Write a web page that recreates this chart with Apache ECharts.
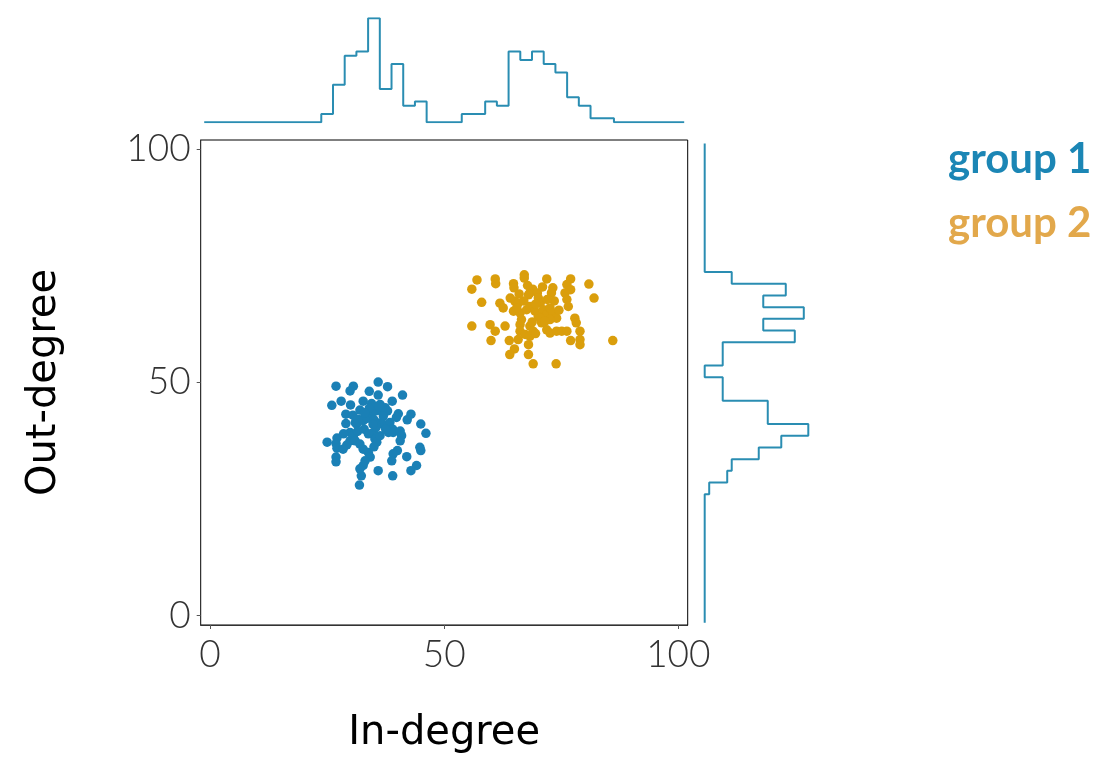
<!DOCTYPE html>
<html>
<head>
<meta charset="utf-8">
<script src="https://cdn.jsdelivr.net/npm/echarts@6/dist/echarts.min.js"></script>
<style>
  html, body { margin: 0; padding: 0; background: #fff; }
  #chart { width: 1107px; height: 759px; }
</style>
</head>
<body>
<div id="chart"></div>
<script>
// ---- data ----
const groupNames = ['group 1', 'group 2'];
const xTicks = [0, 50, 100];
const yTicks = [0, 50, 100];
const axisNames = ['In-degree', 'Out-degree'];

const group1 = [
  [26.9,49.2],[30.6,49.2],[29.9,48.2],[35.9,50.1],[37.9,49.1],[34.0,48.1],[41.1,47.3],[35.9,47.3],
  [26.0,45.1],[28.0,46.0],[30.0,45.2],[32.7,46.0],[34.5,45.5],[36.3,45.3],[37.4,44.6],[37.9,43.9],
  [38.9,46.0],[29.0,43.2],[32.0,44.1],[33.5,42.8],[34.5,43.4],[35.4,43.9],[36.7,43.9],[37.0,42.8],
  [40.2,43.3],[39.8,42.5],[42.9,43.2],[42.1,42.0],[29.0,41.2],[31.0,41.4],[31.7,42.1],[31.3,41.1],
  [32.7,41.8],[33.5,42.3],[32.9,40.0],[36.2,41.3],[36.9,41.1],[38.4,41.4],[39.0,40.0],[45.0,41.1],
  [46.1,39.1],[25.0,37.2],[27.1,38.1],[26.9,36.9],[27.1,35.9],[29.9,39.3],[30.6,38.6],[29.9,37.5],
  [29.2,36.6],[28.4,35.7],[31.0,37.5],[32.0,36.8],[32.7,35.7],[33.8,35.0],[34.2,34.0],[34.9,39.3],
  [35.2,37.9],[35.6,37.2],[36.3,38.6],[38.1,39.3],[39.1,39.3],[40.6,39.6],[40.9,38.6],[40.6,37.5],
  [40.0,35.4],[39.1,34.7],[38.8,33.2],[42.0,34.1],[44.8,36.1],[45.0,35.4],[26.9,34.0],[26.9,33.0],
  [33.1,33.2],[32.7,32.2],[32.0,31.5],[32.3,30.0],[35.9,31.1],[39.0,30.0],[44.1,32.2],[42.9,31.1],
  [31.9,28.0],[35.0,42.0],[34.0,44.5],[35.5,40.5],[33.8,39.0],[35.0,36.2],[31.5,39.5],[36.0,44.8],
  [37.5,40.0],[33.0,43.5],[34.8,41.0],[30.5,43.0],[28.5,39.0]
];

const group2 = [
  [57.0,72.0],[55.9,70.0],[60.9,72.2],[61.0,71.2],[64.8,71.2],[64.9,70.3],[67.1,73.1],[67.1,72.4],
  [68.9,70.0],[68.3,69.2],[69.9,69.2],[71.9,72.2],[73.2,70.3],[72.9,69.2],[77.0,72.2],[76.2,71.0],
  [77.0,69.9],[75.8,69.2],[76.2,67.8],[76.5,66.3],[80.9,71.1],[82.0,68.1],[58.0,67.2],[61.9,67.0],
  [62.6,66.0],[64.1,68.1],[65.1,67.4],[65.8,67.0],[68.0,68.8],[70.1,68.1],[70.5,67.0],[64.8,65.3],
  [66.2,64.9],[67.6,65.6],[68.3,66.3],[69.4,65.3],[70.1,64.2],[71.2,65.6],[71.9,64.6],[72.6,66.0],
  [73.3,64.9],[74.0,63.8],[72.6,63.5],[55.9,62.1],[59.8,62.4],[60.9,61.0],[63.0,62.1],[66.2,62.4],
  [66.2,61.0],[67.3,60.3],[68.3,62.1],[69.0,61.0],[70.8,62.8],[71.9,61.3],[72.6,60.6],[74.0,61.0],
  [75.1,61.0],[76.2,61.0],[70.5,63.8],[71.5,63.1],[77.9,63.8],[78.2,62.8],[79.0,61.0],[79.0,59.2],
  [79.0,58.1],[77.0,59.0],[86.0,59.0],[60.0,59.0],[63.9,59.0],[65.0,57.2],[64.0,56.0],[68.0,58.1],
  [68.0,56.0],[68.3,59.9],[65.8,59.2],[69.0,54.0],[73.9,54.0],[67.0,67.5],[69.5,66.8],[66.5,63.5],
  [68.8,63.0],[73.5,67.5],[67.8,70.8],[66.0,69.0],[74.5,65.5],[71.0,70.5],[65.5,66.0],[69.5,60.5],
  [72.0,67.8]
];

// histogram bins: centers 0, 2.5, ..., 100 (width 2.5)
const binCenters = [0,2.5,5,7.5,10,12.5,15,17.5,20,22.5,25,27.5,30,32.5,35,37.5,40,42.5,45,47.5,50,
  52.5,55,57.5,60,62.5,65,67.5,70,72.5,75,77.5,80,82.5,85,87.5,90,92.5,95,97.5,100];
const binWidth = 2.5;
// counts of in-degree (top margin)
const xCounts = [0,0,0,0,0,0,0,0,0,0,2,9,16,17,25,8,14,4,5,0,0,
  0,2,2,5,4,17,15,17,14,12,6,4,1,1,0,0,0,0,0,0];
// counts of out-degree (right margin)
const yCounts = [0,0,0,0,0,0,0,0,0,0,0,1,5,6,12,17,23,14,14,4,4,
  0,4,4,20,13,22,13,18,6,0,0,0,0,0,0,0,0,0,0,0];

// ---- build step outlines from the bins ----
function stepOutline(counts, vertical) {
  const pts = [];
  for (let i = 0; i < binCenters.length; i++) {
    const a = binCenters[i] - binWidth / 2, b = binCenters[i] + binWidth / 2;
    if (vertical) { pts.push([counts[i], a], [counts[i], b]); }
    else { pts.push([a, counts[i]], [b, counts[i]]); }
  }
  return pts;
}

const blue = '#1a80b6';
const orange = '#da9e0c';
const histColor = '#2a8db2';
const tickFont = { fontFamily: 'Lato', fontWeight: 300, fontSize: 37, color: '#333' };
const titleFont = { fontFamily: 'DejaVu Sans', fontSize: 40, color: '#000' };

const chart = echarts.init(document.getElementById('chart'), null, { renderer: 'canvas' });
chart.setOption({
  animation: false,
  backgroundColor: '#fff',
  legend: {
    orient: 'vertical',
    left: 938,
    top: 133,
    itemWidth: 0,
    itemHeight: 0,
    itemGap: 22,
    icon: 'rect',
    selectedMode: false,
    textStyle: { fontFamily: 'Lato', fontWeight: 'bold', fontSize: 42, lineHeight: 42 },
    data: [
      { name: groupNames[0], textStyle: { color: '#1b86b5' } },
      { name: groupNames[1], textStyle: { color: '#e2a84b' } }
    ]
  },
  grid: [
    { left: 200.7, top: 140, width: 487, height: 486.3, show: true, borderColor: '#000', borderWidth: 1, containLabel: false },
    { left: 200.7, top: 18.3, width: 487, height: 104, containLabel: false },
    { left: 704.7, top: 140, width: 103.6, height: 486.3, containLabel: false }
  ],
  xAxis: [
    {
      gridIndex: 0, type: 'value', min: -2, max: 102,
      name: axisNames[0], nameLocation: 'middle', nameGap: 89, nameTextStyle: titleFont,
      axisLine: { show: true, onZero: false, lineStyle: { color: '#333', width: 1 } },
      axisTick: { show: true, length: 4, lineStyle: { color: '#555' }, customValues: xTicks },
      axisLabel: Object.assign({ margin: 12, customValues: xTicks }, tickFont),
      splitLine: { show: false }
    },
    { gridIndex: 1, type: 'value', min: -2, max: 102, show: false },
    { gridIndex: 2, type: 'value', min: 0, max: 23, show: false }
  ],
  yAxis: [
    {
      gridIndex: 0, type: 'value', min: -2, max: 102,
      name: axisNames[1], nameLocation: 'middle', nameGap: 136, nameTextStyle: titleFont,
      axisLine: { show: true, onZero: false, lineStyle: { color: '#333', width: 1 } },
      axisTick: { show: true, length: 4, lineStyle: { color: '#555' }, customValues: yTicks },
      axisLabel: Object.assign({ margin: 10, customValues: yTicks }, tickFont),
      splitLine: { show: false }
    },
    { gridIndex: 1, type: 'value', min: 0, max: 25, show: false },
    { gridIndex: 2, type: 'value', min: -2, max: 102, show: false }
  ],
  series: [
    {
      name: groupNames[0], type: 'scatter', xAxisIndex: 0, yAxisIndex: 0,
      symbolSize: 9.5, itemStyle: { color: blue, opacity: 1 }, data: group1
    },
    {
      name: groupNames[1], type: 'scatter', xAxisIndex: 0, yAxisIndex: 0,
      symbolSize: 9.5, itemStyle: { color: orange, opacity: 1 }, data: group2
    },
    {
      type: 'line', xAxisIndex: 1, yAxisIndex: 1, data: stepOutline(xCounts, false),
      showSymbol: false, symbol: 'none', lineStyle: { color: histColor, width: 2 }, silent: true
    },
    {
      type: 'line', xAxisIndex: 2, yAxisIndex: 2, data: stepOutline(yCounts, true),
      showSymbol: false, symbol: 'none', lineStyle: { color: histColor, width: 2 }, silent: true
    }
  ]
});
</script>
</body>
</html>
